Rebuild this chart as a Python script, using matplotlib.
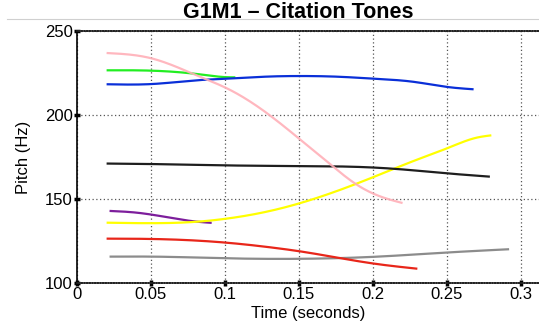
import numpy as np
import matplotlib.pyplot as plt
from matplotlib.lines import Line2D

# Pitch tracks per tone: time (s) and F0 (Hz)
pink_t = [0.020, 0.050, 0.083, 0.101, 0.130, 0.150, 0.170, 0.190, 0.205, 0.220]
pink_hz = [236.9, 233.8, 222.8, 216.0, 200.0, 186.0, 171.5, 158.0, 151.5, 147.6]

green_t = [0.020, 0.050, 0.083, 0.101, 0.107]
green_hz = [226.6, 226.4, 224.2, 222.5, 222.4]

blue_t = [0.020, 0.050, 0.083, 0.101, 0.130, 0.151, 0.176, 0.201, 0.227, 0.251, 0.268]
blue_hz = [218.3, 218.4, 220.8, 221.6, 222.9, 223.2, 222.8, 221.6, 219.8, 216.6, 215.3]

black_t = [0.020, 0.051, 0.101, 0.151, 0.201, 0.220, 0.251, 0.279]
black_hz = [171.1, 170.8, 170.0, 169.6, 168.7, 167.6, 165.2, 163.3]

yellow_t = [0.020, 0.050, 0.083, 0.101, 0.130, 0.151, 0.201, 0.230, 0.251, 0.270, 0.280]
yellow_hz = [135.9, 135.6, 136.6, 138.3, 142.8, 147.6, 163.3, 173.5, 180.5, 186.5, 187.9]

purple_t = [0.022, 0.040, 0.060, 0.080, 0.091]
purple_hz = [142.9, 141.9, 139.3, 136.6, 135.8]

red_t = [0.020, 0.051, 0.101, 0.130, 0.151, 0.201, 0.230]
red_hz = [126.4, 126.2, 124.0, 121.3, 118.8, 111.5, 108.5]

gray_t = [0.022, 0.051, 0.101, 0.151, 0.201, 0.251, 0.292]
gray_hz = [115.7, 115.7, 114.7, 114.4, 115.6, 118.2, 120.1]

tracks = [
    (gray_t, gray_hz, '#8c8c8c', 1.0),
    (red_t, red_hz, '#e8261a', 1.0),
    (purple_t, purple_hz, '#7d1e9c', 1.0),
    (yellow_t, yellow_hz, '#ffff00', 1.0),
    (black_t, black_hz, '#1e1e1e', 1.0),
    (green_t, green_hz, '#22ee22', 1.0),
    (blue_t, blue_hz, '#0a2fd8', 1.0),
    (pink_t, pink_hz, '#ffb0b8', 0.9),
]


def spline(t, v, n=300):
    """ Natural cubic spline through the given points """
    t = np.asarray(t, dtype=np.float64)
    v = np.asarray(v, dtype=np.float64)
    k = len(t)
    h = np.diff(t)
    A = np.zeros((k, k))
    b = np.zeros(k)
    A[0, 0] = A[-1, -1] = 1.0
    for i in range(1, k - 1):
        A[i, i - 1] = h[i - 1]
        A[i, i] = 2 * (h[i - 1] + h[i])
        A[i, i + 1] = h[i]
        b[i] = 6 * ((v[i + 1] - v[i]) / h[i] - (v[i] - v[i - 1]) / h[i - 1])
    M = np.linalg.solve(A, b)
    ts = np.linspace(t[0], t[-1], n)
    idx = np.clip(np.searchsorted(t, ts) - 1, 0, k - 2)
    hh = h[idx]
    a = t[idx + 1] - ts
    c = ts - t[idx]
    vs = (M[idx] * a**3 + M[idx + 1] * c**3) / (6 * hh) \
        + (v[idx] / hh - M[idx] * hh / 6) * a \
        + (v[idx + 1] / hh - M[idx + 1] * hh / 6) * c
    return ts, vs


plt.rcParams['font.family'] = ['Liberation Sans', 'DejaVu Sans']
fig = plt.figure(figsize=(5.39, 3.30), dpi=100)
ax = fig.add_axes([77 / 539, 47 / 330, 1 - 77 / 539, 252 / 330])

for t, hz, color, alpha in tracks:
    ts, vs = spline(t, hz)
    ax.plot(ts, vs, color=color, linewidth=1.6, alpha=alpha, zorder=3,
            solid_capstyle='butt')

ax.set_xlim(0, 0.3122)
ax.set_ylim(100, 250)
ax.set_xticks([0, 0.05, 0.1, 0.15, 0.2, 0.25, 0.3])
ax.set_xticklabels(['0', '0.05', '0.1', '0.15', '0.2', '0.25', '0.3'])
ax.set_yticks([100, 150, 200, 250])
ax.tick_params(direction='inout', length=4, width=2.5, labelsize=12, pad=1, color='black')
ax.grid(True, linestyle=(0, (1, 2)), color='#555555', linewidth=0.9)

ax.spines['right'].set_visible(False)
ax.spines['left'].set_linewidth(1.2)
for side in ['top', 'bottom']:
    ax.spines[side].set_linestyle((0, (1, 0.6)))
    ax.spines[side].set_linewidth(1.2)
    ax.spines[side].set_color('#222222')

ax.set_xlabel('Time (seconds)', fontsize=12, labelpad=3)
ax.set_ylabel('Pitch (Hz)', fontsize=12, labelpad=10)

# Thin rule behind the heading
fig.add_artist(Line2D([7 / 539, 1.0], [1 - 19 / 330, 1 - 19 / 330], color='#d0d0d0', linewidth=0.8, zorder=0))
fig.text(298 / 539, 1 - 13 / 330, 'G1M1 – Citation Tones', fontsize=15.5, fontweight='bold',
         ha='center', va='center', zorder=2)

fig.savefig('out.png', dpi=100)
